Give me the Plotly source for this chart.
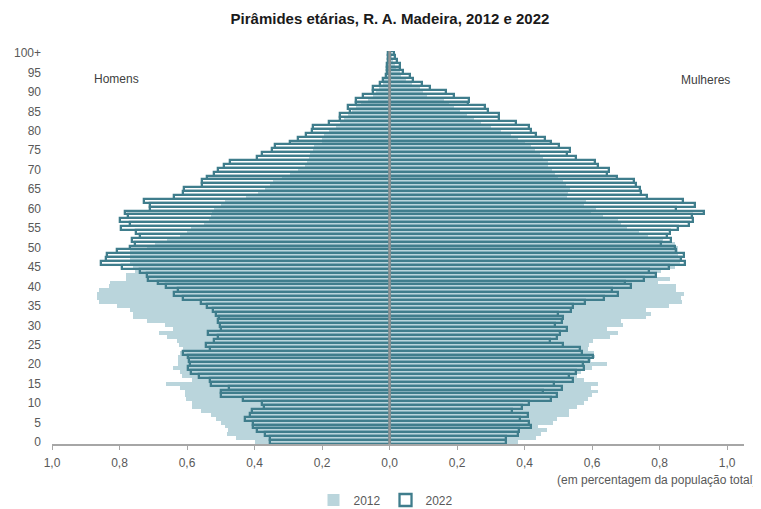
import plotly.graph_objects as go

ages = list(range(0, 101))

men_2012 = [0.40, 0.455, 0.483, 0.48, 0.488, 0.50, 0.513, 0.53, 0.559, 0.584,
            0.584, 0.602, 0.605, 0.605, 0.62, 0.663, 0.584, 0.615, 0.621, 0.643,
            0.628, 0.628, 0.628, 0.62, 0.613, 0.623, 0.631, 0.658, 0.683, 0.643,
            0.666, 0.718, 0.76, 0.76, 0.77, 0.807, 0.86, 0.868, 0.868, 0.862,
            0.83, 0.829, 0.78, 0.78, 0.755, 0.76, 0.77, 0.77, 0.77, 0.77,
            0.72, 0.695, 0.66, 0.62, 0.60, 0.587, 0.55, 0.535, 0.53, 0.525,
            0.52, 0.50, 0.488, 0.424, 0.39, 0.37, 0.355, 0.345, 0.32, 0.295,
            0.27, 0.25, 0.246, 0.24, 0.236, 0.226, 0.225, 0.20, 0.20, 0.195,
            0.18, 0.16, 0.147, 0.135, 0.122, 0.11, 0.098, 0.085, 0.065, 0.05,
            0.04, 0.03, 0.02, 0.016, 0.012, 0.009, 0.007, 0.005, 0.004, 0.003,
            0.003]

women_2012 = [0.38, 0.435, 0.45, 0.465, 0.44, 0.485, 0.495, 0.531, 0.531, 0.554,
              0.577, 0.588, 0.60, 0.618, 0.598, 0.618, 0.577, 0.554, 0.567, 0.60,
              0.643, 0.598, 0.61, 0.606, 0.588, 0.591, 0.603, 0.653, 0.677, 0.643,
              0.692, 0.687, 0.76, 0.773, 0.761, 0.827, 0.867, 0.864, 0.872, 0.85,
              0.85, 0.796, 0.83, 0.79, 0.805, 0.845, 0.86, 0.86, 0.855, 0.855,
              0.855, 0.845, 0.811, 0.766, 0.739, 0.702, 0.687, 0.677, 0.633, 0.598,
              0.613, 0.576, 0.583, 0.527, 0.53, 0.534, 0.522, 0.514, 0.50, 0.49,
              0.48, 0.47, 0.47, 0.455, 0.445, 0.43, 0.42, 0.40, 0.38, 0.36,
              0.33, 0.30, 0.27, 0.25, 0.228, 0.21, 0.19, 0.175, 0.16, 0.11,
              0.10, 0.09, 0.065, 0.05, 0.035, 0.03, 0.02, 0.015, 0.01, 0.008,
              0.008]

men_2022 = [0.355, 0.355, 0.37, 0.394, 0.404, 0.404, 0.427, 0.414, 0.409, 0.372,
            0.379, 0.434, 0.498, 0.50, 0.476, 0.53, 0.532, 0.564, 0.587, 0.598,
            0.592, 0.595, 0.598, 0.613, 0.532, 0.545, 0.521, 0.508, 0.539, 0.50,
            0.503, 0.508, 0.505, 0.513, 0.523, 0.542, 0.559, 0.611, 0.639, 0.626,
            0.661, 0.686, 0.715, 0.718, 0.74, 0.794, 0.855, 0.841, 0.836, 0.807,
            0.769, 0.755, 0.762, 0.74, 0.752, 0.796, 0.77, 0.799, 0.775, 0.784,
            0.71, 0.71, 0.728, 0.639, 0.611, 0.609, 0.557, 0.557, 0.54, 0.52,
            0.508, 0.491, 0.473, 0.392, 0.377, 0.347, 0.34, 0.295, 0.271, 0.248,
            0.231, 0.226, 0.179, 0.147, 0.147, 0.117, 0.124, 0.10, 0.10, 0.078,
            0.05, 0.05, 0.028, 0.019, 0.012, 0.009, 0.009, 0.007, 0.006, 0.005,
            0.004]

women_2022 = [0.344, 0.344, 0.379, 0.384, 0.418, 0.413, 0.386, 0.411, 0.364, 0.391,
              0.413, 0.477, 0.497, 0.455, 0.51, 0.488, 0.544, 0.531, 0.551, 0.577,
              0.574, 0.591, 0.603, 0.571, 0.564, 0.514, 0.475, 0.497, 0.504, 0.527,
              0.49, 0.51, 0.513, 0.50, 0.537, 0.542, 0.579, 0.636, 0.676, 0.66,
              0.715, 0.697, 0.754, 0.789, 0.769, 0.828, 0.875, 0.862, 0.873, 0.848,
              0.845, 0.804, 0.835, 0.823, 0.831, 0.855, 0.887, 0.90, 0.895, 0.932,
              0.848, 0.904, 0.868, 0.763, 0.744, 0.742, 0.729, 0.725, 0.674, 0.643,
              0.651, 0.618, 0.608, 0.552, 0.527, 0.536, 0.502, 0.477, 0.46, 0.433,
              0.418, 0.414, 0.374, 0.325, 0.325, 0.292, 0.282, 0.231, 0.236, 0.191,
              0.167, 0.12, 0.095, 0.07, 0.06, 0.04, 0.03, 0.03, 0.021, 0.015,
              0.014]

age_tickvals = list(range(0, 101, 5))
age_ticktext = [str(v) for v in range(0, 100, 5)] + ["100+"]
x_tickvals = [-1.0, -0.8, -0.6, -0.4, -0.2, 0.0, 0.2, 0.4, 0.6, 0.8, 1.0]
x_ticktext = ["1,0", "0,8", "0,6", "0,4", "0,2", "0,0", "0,2", "0,4", "0,6", "0,8", "1,0"]

C2012 = "#bad5dc"
C2022 = "#3f7d8c"

# the page body adds an 8px offset; figure size compensates
W, H = 753, 501

fig = go.Figure()
fig.add_trace(go.Bar(y=ages, x=[-v for v in men_2012], orientation="h",
                     marker=dict(color=C2012, line=dict(width=0)),
                     name="2012", legendgroup="2012", showlegend=True))
fig.add_trace(go.Bar(y=ages, x=women_2012, orientation="h",
                     marker=dict(color=C2012, line=dict(width=0)),
                     name="2012", legendgroup="2012", showlegend=False))
fig.add_trace(go.Bar(y=ages, x=[-v for v in men_2022], orientation="h",
                     marker=dict(color="rgba(255,255,255,0)", line=dict(color=C2022, width=2.3)),
                     name="2022", legendgroup="2022", showlegend=True))
fig.add_trace(go.Bar(y=ages, x=women_2022, orientation="h",
                     marker=dict(color="rgba(255,255,255,0)", line=dict(color=C2022, width=2.3)),
                     name="2022", legendgroup="2022", showlegend=False))

fig.add_shape(type="line", x0=0, x1=0, y0=-0.5, y1=100.5, xref="x", yref="y",
              line=dict(color="#939393", width=2.5), layer="above")

fig.update_layout(
    width=W, height=H,
    barmode="overlay", bargap=0,
    plot_bgcolor="white", paper_bgcolor="white",
    margin=dict(l=44, r=17, t=43, b=65, autoexpand=False),
    font=dict(family="Liberation Sans, Arial, sans-serif", size=12, color="#595959"),
    title=dict(text="<b>Pirâmides etárias, R. A. Madeira, 2012 e 2022</b>",
               x=382 / W, xref="container", xanchor="center",
               y=1 - 11 / H, yref="container", yanchor="middle",
               font=dict(size=15, color="#1a1a1a")),
    xaxis=dict(range=[-1.0, 1.05], tickvals=x_tickvals, ticktext=x_ticktext,
               showgrid=False, zeroline=False, showline=True, linecolor="#a6a6a6",
               linewidth=1.5, ticks="outside", ticklen=4, tickcolor="#a6a6a6",
               ticklabelstandoff=3, tickfont=dict(size=12, color="#595959")),
    yaxis=dict(range=[-0.5, 100.5], tickvals=age_tickvals, ticktext=age_ticktext,
               showgrid=False, zeroline=False, showline=False, ticks="",
               ticklabelstandoff=10, tickfont=dict(size=12, color="#595959")),
    legend=dict(orientation="h", x=378 / W, xref="container", xanchor="center",
                y=1 - 492 / H, yref="container", yanchor="middle",
                font=dict(size=12, color="#595959"), itemwidth=30,
                traceorder="normal"),
    showlegend=True,
)

fig.add_annotation(text="(em percentagem da população total)", x=1.02, xref="paper",
                   y=-0.0916, yref="paper", xanchor="right", yanchor="middle",
                   showarrow=False, font=dict(size=12, color="#595959"))
fig.add_annotation(text="Homens", x=0.0925, xref="paper", y=0.929, yref="paper",
                   xanchor="center", yanchor="middle", showarrow=False,
                   font=dict(size=12, color="#404040"))
fig.add_annotation(text="Mulheres", x=0.944, xref="paper", y=0.926, yref="paper",
                   xanchor="center", yanchor="middle", showarrow=False,
                   font=dict(size=12, color="#404040"))

fig.write_html("out.html")
